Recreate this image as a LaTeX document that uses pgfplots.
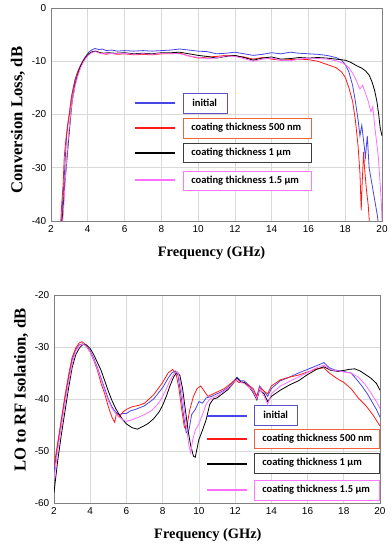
\documentclass[border=0pt]{standalone}
\usepackage{fontspec}
\setmainfont{Liberation Sans}
\newfontfamily\serifb{Liberation Serif}
\newfontfamily\leg{Carlito}
\usepackage{pgfplots}
\pgfplotsset{compat=1.18}
\definecolor{cblue}{RGB}{70,70,230}
\definecolor{cred}{RGB}{255,25,25}
\definecolor{cmag}{RGB}{255,110,255}
\definecolor{bblue}{RGB}{90,80,200}
\definecolor{bred}{RGB}{240,100,60}
\definecolor{bblack}{RGB}{60,60,60}
\definecolor{bmag}{RGB}{255,120,255}
\pgfplotsset{myax/.style={scale only axis, xmin=2, xmax=20, xtick={2,4,...,20},
  grid=major, major grid style={draw=black!15, line width=0.5pt},
  axis line style={draw=black!50, line width=0.6pt}, major tick length=0pt,
  tick label style={font=\fontsize{7.5}{8.5}\selectfont},
  /pgf/number format/assume math mode=true,
  every axis plot/.append style={line width=0.6pt, mark=none},
  ylabel style={font=\serifb\bfseries\fontsize{12.5}{14}\selectfont, anchor=center},
  xlabel style={font=\serifb\bfseries\fontsize{10.8}{12}\selectfont, anchor=center}}}
\begin{document}
\begin{tikzpicture}
\path[use as bounding box] (0,0) rectangle (294pt,412.5pt);
% ---------------- top: conversion loss
\begin{axis}[myax, at={(38.25pt,246.75pt)}, anchor=south west,
  width=248.25pt, height=159.75pt, ymin=-40, ymax=0, ytick={-40,-30,...,0},
  xlabel={Frequency (GHz)}, ylabel={Conversion Loss, dB},
  xlabel style={at={(axis description cs:0.485,-0.150)}},
  ylabel style={at={(axis description cs:-0.0997,0.474)}}]
\addplot[cblue] coordinates {(2.55,-42)(2.62,-37)(2.7,-33)(2.78,-28)(2.85,-24)(2.95,-21)(3.05,-18.5)(3.15,-16)(3.3,-13.5)(3.45,-12)(3.6,-10.8)(3.75,-9.8)(3.9,-9)(4.05,-8.3)(4.2,-7.9)(4.4,-7.6)(4.6,-7.8)(4.8,-7.7)(5.0,-8.0)(5.3,-7.9)(5.6,-8.1)(6,-8.0)(6.5,-8.1)(7,-8.0)(7.5,-8.1)(8,-8.0)(8.5,-7.9)(9,-7.7)(9.5,-7.9)(10,-8.1)(10.5,-8.2)(11,-8.6)(11.5,-8.5)(12,-8.3)(12.5,-8.6)(13,-8.9)(13.5,-8.7)(14,-8.4)(14.5,-8.6)(15,-8.3)(15.5,-8.5)(16,-8.6)(16.5,-8.7)(17,-8.9)(17.5,-9.3)(17.8,-9.8)(18.0,-10.6)(18.2,-12)(18.4,-14.5)(18.55,-17.5)(18.7,-21)(18.8,-24)(18.9,-22)(19.0,-25)(19.1,-28)(19.2,-24)(19.3,-30)(19.45,-33)(19.6,-36)(19.75,-39)(19.85,-42)};
\addplot[cred] coordinates {(2.5,-42)(2.58,-37)(2.66,-33)(2.72,-28)(2.8,-25)(2.9,-22)(3.0,-20)(3.1,-17)(3.25,-14.5)(3.4,-12.5)(3.55,-11.2)(3.7,-10.2)(3.85,-9.4)(4.0,-8.8)(4.2,-8.3)(4.4,-8.1)(4.6,-8.3)(4.8,-8.5)(5.0,-8.7)(5.3,-8.5)(5.6,-8.7)(6,-8.6)(6.5,-8.8)(7,-8.7)(7.5,-8.8)(8,-8.6)(8.5,-8.6)(9,-8.5)(9.5,-9.0)(10,-9.4)(10.5,-9.2)(11,-9.1)(11.5,-8.9)(12,-9.0)(12.5,-9.2)(13,-9.6)(13.5,-9.3)(14,-9.6)(14.5,-9.8)(15,-9.7)(15.5,-9.6)(16,-9.7)(16.5,-10.0)(17,-10.6)(17.5,-11.2)(17.8,-12)(18.0,-13)(18.2,-15)(18.4,-17.5)(18.55,-21)(18.7,-26)(18.8,-31)(18.87,-38)(18.92,-33)(19.0,-27)(19.05,-30)(19.15,-34)(19.25,-37)(19.35,-42)};
\addplot[black] coordinates {(2.55,-42)(2.65,-38)(2.75,-33)(2.85,-29)(2.95,-25)(3.05,-21)(3.15,-17.5)(3.3,-14.5)(3.45,-12.5)(3.6,-11)(3.75,-10)(3.9,-9.2)(4.05,-8.6)(4.25,-8.2)(4.45,-8.1)(4.65,-8.4)(4.85,-8.5)(5.1,-8.4)(5.5,-8.5)(6,-8.4)(6.5,-8.6)(7,-8.5)(7.5,-8.6)(8,-8.4)(8.5,-8.4)(9,-8.3)(9.5,-8.6)(10,-8.9)(10.5,-9.1)(11,-9.4)(11.5,-9.1)(12,-8.9)(12.5,-9.3)(13,-9.8)(13.5,-9.4)(14,-9.2)(14.5,-9.6)(15,-9.5)(15.5,-9.3)(16,-9.4)(16.5,-9.3)(17,-9.4)(17.5,-9.6)(18,-9.8)(18.3,-10.2)(18.6,-10.8)(18.9,-11.3)(19.1,-11.8)(19.3,-12.6)(19.45,-13.8)(19.6,-15.5)(19.72,-17.5)(19.82,-20)(19.9,-22.5)(20.0,-24)};
\addplot[cmag] coordinates {(2.6,-42)(2.7,-37)(2.78,-32)(2.86,-28)(2.95,-24)(3.05,-20.5)(3.15,-17.5)(3.3,-14.8)(3.45,-12.8)(3.6,-11.3)(3.75,-10.2)(3.9,-9.4)(4.05,-8.8)(4.25,-8.3)(4.45,-8.2)(4.65,-8.5)(4.85,-8.6)(5.1,-8.5)(5.5,-8.6)(6,-8.5)(6.5,-8.7)(7,-8.6)(7.5,-8.7)(8,-8.5)(8.5,-8.5)(9,-8.6)(9.5,-9.0)(10,-9.3)(10.5,-9.5)(11,-9.4)(11.5,-9.0)(12,-9.1)(12.5,-9.5)(13,-10.0)(13.5,-9.6)(14,-9.4)(14.5,-9.8)(15,-9.9)(15.5,-9.6)(16,-9.4)(16.5,-9.5)(17,-9.6)(17.5,-9.9)(17.9,-10.4)(18.2,-11.2)(18.45,-12.5)(18.65,-14)(18.8,-15.2)(18.95,-14.5)(19.1,-16)(19.25,-17.5)(19.4,-19.5)(19.5,-18.5)(19.6,-22)(19.7,-25)(19.8,-28)(19.9,-33)(19.97,-37)(20,-40)};
\end{axis}
% ---------------- bottom: LO to RF isolation
\begin{axis}[myax, at={(40.5pt,35.25pt)}, anchor=south west,
  width=244.5pt, height=156pt, ymin=-60, ymax=-20, ytick={-60,-50,...,-20},
  xlabel={Frequency (GHz)}, ylabel={LO to RF Isolation, dB},
  xlabel style={at={(axis description cs:0.472,-0.154)}},
  ylabel style={at={(axis description cs:-0.101,0.543)}}]
\addplot[cblue] coordinates {(2.0,-54)(2.2,-49)(2.4,-44.5)(2.6,-40)(2.8,-36)(3.0,-32.5)(3.2,-30.5)(3.4,-29.6)(3.55,-29.4)(3.7,-29.6)(3.85,-30.0)(4.0,-30.8)(4.2,-32.2)(4.4,-34)(4.6,-36)(4.8,-38)(5.0,-40)(5.2,-41.5)(5.4,-42.5)(5.6,-43)(5.8,-42.8)(6.0,-42.8)(6.2,-42.3)(6.5,-42)(7.0,-41.3)(7.5,-40)(8.0,-37.8)(8.3,-36)(8.5,-35)(8.7,-34.6)(8.85,-35.5)(9.0,-39)(9.15,-43)(9.3,-46.5)(9.45,-46)(9.6,-43)(9.8,-42)(10.0,-40.5)(10.2,-40.8)(10.4,-39.8)(10.7,-39.5)(11.0,-39)(11.3,-38.5)(11.6,-37.8)(11.9,-36.7)(12.1,-35.8)(12.3,-36.5)(12.5,-36.5)(12.8,-37.5)(13.0,-38.5)(13.2,-39.5)(13.35,-37.5)(13.6,-38.5)(13.8,-39.5)(14.0,-38)(14.5,-36.5)(15.0,-35.8)(15.5,-35)(16.0,-34.3)(16.5,-33.6)(16.9,-33)(17.2,-34)(17.5,-34.4)(18.0,-34.7)(18.4,-35)(18.7,-36.2)(19.0,-37.5)(19.3,-39)(19.6,-40.8)(19.8,-42)(20.0,-43.5)};
\addplot[cred] coordinates {(2.0,-53)(2.2,-48.5)(2.4,-44)(2.6,-39.5)(2.8,-35.5)(3.0,-32)(3.2,-30.2)(3.4,-29.2)(3.55,-29.0)(3.7,-29.4)(3.85,-30.2)(4.0,-31)(4.2,-32.6)(4.4,-34.5)(4.6,-37)(4.8,-39)(5.0,-41.5)(5.2,-43.5)(5.35,-44.5)(5.45,-42.8)(5.6,-43.5)(5.8,-42.5)(6.0,-42)(6.3,-41.5)(6.7,-41.2)(7.0,-40.8)(7.5,-39.2)(8.0,-36.8)(8.3,-35)(8.55,-34.3)(8.75,-35.3)(8.9,-38)(9.05,-42)(9.2,-45.5)(9.35,-45)(9.5,-42)(9.7,-39.5)(9.9,-38)(10.1,-37.5)(10.3,-38.5)(10.5,-39.5)(10.8,-39)(11.1,-38.5)(11.4,-38)(11.7,-37.2)(12.0,-36.3)(12.2,-36.8)(12.5,-36.8)(12.8,-37.5)(13.0,-38)(13.2,-39.5)(13.35,-37.8)(13.6,-38.5)(13.8,-39)(14.0,-37.5)(14.5,-36.3)(15.0,-35.8)(15.5,-35.4)(16.0,-34.8)(16.5,-34.2)(16.9,-34)(17.2,-35)(17.6,-36)(18.0,-36.8)(18.4,-38)(18.8,-39.8)(19.2,-41.2)(19.6,-43)(20.0,-45.2)};
\addplot[black] coordinates {(2.0,-58)(2.2,-52)(2.4,-47)(2.6,-42.5)(2.8,-38)(3.0,-34)(3.2,-31.5)(3.4,-30.2)(3.6,-29.5)(3.8,-29.6)(4.0,-30.3)(4.2,-31.5)(4.4,-33)(4.6,-34.5)(4.8,-36.5)(5.0,-38.5)(5.2,-40.3)(5.4,-41.8)(5.6,-43)(5.8,-44)(6.0,-44.8)(6.3,-45.5)(6.6,-45.8)(6.9,-45.3)(7.2,-44.7)(7.5,-43.8)(7.8,-42.5)(8.0,-41.2)(8.2,-39.5)(8.4,-37.5)(8.6,-35.8)(8.8,-34.8)(8.95,-35.5)(9.1,-38)(9.25,-42)(9.4,-46)(9.55,-49)(9.7,-51)(9.8,-51.2)(9.9,-49.5)(10.0,-47.8)(10.2,-46)(10.4,-44)(10.6,-41)(10.8,-40)(11.0,-39.8)(11.3,-39)(11.6,-38.2)(11.9,-37)(12.1,-36)(12.3,-36.7)(12.5,-36.8)(12.8,-37.8)(13.0,-38.8)(13.2,-40.2)(13.35,-38.2)(13.6,-39)(13.8,-40.5)(14.0,-39.5)(14.5,-38.3)(15.0,-37.3)(15.5,-36.5)(16.0,-35.3)(16.5,-34.3)(16.9,-33.8)(17.3,-34.5)(17.7,-34.7)(18.0,-34.5)(18.3,-34.3)(18.6,-34.2)(18.9,-34.6)(19.2,-35.3)(19.5,-36)(19.8,-37)(20.0,-38.3)};
\addplot[cmag] coordinates {(2.0,-55.5)(2.2,-50)(2.4,-45.5)(2.6,-41)(2.8,-37)(3.0,-33.3)(3.2,-30.8)(3.4,-29.7)(3.55,-29.5)(3.7,-29.6)(3.85,-30.2)(4.0,-31)(4.2,-32.5)(4.4,-34.2)(4.6,-36.3)(4.8,-38.5)(5.0,-40.3)(5.2,-41.8)(5.4,-42.8)(5.6,-43.5)(5.8,-44)(6.0,-44.3)(6.3,-44)(6.6,-43.6)(7.0,-43)(7.4,-42.2)(7.8,-40.7)(8.1,-38.8)(8.4,-36.5)(8.65,-35)(8.85,-34.9)(9.0,-37.5)(9.15,-41)(9.3,-45)(9.45,-49)(9.55,-50.4)(9.65,-48)(9.8,-46)(10.0,-44.8)(10.2,-43)(10.4,-41)(10.6,-40)(10.9,-39.6)(11.2,-39)(11.5,-38.2)(11.8,-37.3)(12.1,-36.2)(12.3,-36.8)(12.5,-37)(12.8,-37.8)(13.0,-38.6)(13.2,-40)(13.35,-38)(13.6,-39.5)(13.8,-41)(14.0,-39)(14.5,-37.5)(15.0,-36.6)(15.5,-35.8)(16.0,-34.9)(16.5,-34)(16.9,-33.5)(17.3,-34.4)(17.7,-34.6)(18.0,-34.8)(18.4,-35)(18.8,-35.8)(19.2,-37.3)(19.5,-38.8)(19.8,-40.5)(20.0,-41.8)};
\end{axis}
% ---------------- legends (pixel coordinates of the reference)
\begin{scope}[x=0.75pt, y=-0.75pt, yshift=412.5pt,
  every node/.style={anchor=west, inner sep=0pt, font=\leg\bfseries\fontsize{7.9}{9}\selectfont}]
 \draw[cblue, line width=0.9pt] (135,103) -- (175,103);
 \draw[cred, line width=0.9pt] (135,128) -- (175,128);
 \draw[black, line width=0.9pt] (135,153) -- (175,153);
 \draw[cmag, line width=0.9pt] (135,180) -- (175,180);
 \draw[bblue, line width=0.7pt, fill=white] (183,93) rectangle (227,113);
 \draw[bred, line width=0.7pt, fill=white] (183,118) rectangle (311,138);
 \draw[bblack, line width=0.7pt, fill=white] (183,143) rectangle (311,162);
 \draw[bmag, line width=0.7pt, fill=white] (183,171) rectangle (311,190);
 \node at (192,103) {initial};
 \node at (191,128) {coating thickness 500 nm};
 \node at (191,152.5) {coating thickness 1 µm};
 \node at (191,180.5) {coating thickness 1.5 µm};
 \draw[cblue, line width=0.9pt] (207,416) -- (247,416);
 \draw[cred, line width=0.9pt] (207,439) -- (247,439);
 \draw[black, line width=0.9pt] (207,464) -- (247,464);
 \draw[cmag, line width=0.9pt] (207,490) -- (247,490);
 \draw[bblue, line width=0.7pt, fill=white] (254,405) rectangle (297,425);
 \draw[bred, line width=0.7pt, fill=white] (254,429) rectangle (379,448);
 \draw[bblack, line width=0.7pt, fill=white] (254,453) rectangle (379,473);
 \draw[bmag, line width=0.7pt, fill=white] (254,480) rectangle (379,500);
 \node at (263,415) {initial};
 \node at (262,438.5) {coating thickness 500 nm};
 \node at (262,463) {coating thickness 1 µm};
 \node at (262,490) {coating thickness 1.5 µm};
\end{scope}
\end{tikzpicture}
\end{document}
